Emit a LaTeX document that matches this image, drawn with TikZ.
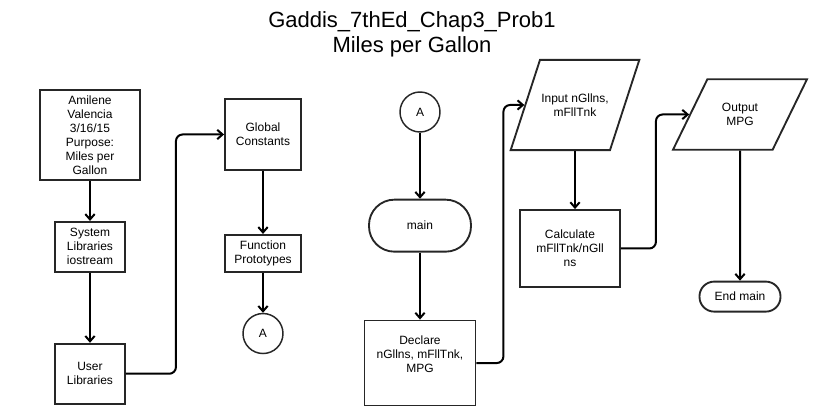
\documentclass[tikz,border=0pt]{standalone}
\usepackage{fontspec}
\setmainfont{Liberation Sans}
\usetikzlibrary{positioning,shapes.geometric,arrows.meta}

\tikzset{
  box/.style={draw=black!85, line width=1.4pt, align=center, inner sep=1pt,
    font=\fontsize{9}{10.5}\selectfont},
  io/.style={box, trapezium, trapezium stretches body,
    trapezium left angle=#1, trapezium right angle=180-#1},
  term/.style={box, rounded corners=#1},
  conn/.style={circle, draw=black!85, line width=1.1pt, minimum size=30pt,
    inner sep=0pt, font=\fontsize{9}{10.5}\selectfont},
  flow/.style={line width=1.5pt, rounded corners=5pt,
    -{Straight Barb[length=4pt,width=7pt]}},
}

\begin{document}
\begin{tikzpicture}[x=0.75pt,y=-0.75pt]
  \useasboundingbox (0,0) rectangle (815,420);
  \node[align=center, font=\fontsize{16.5}{18.75}\selectfont] (title) at (412,34)
    {Gaddis\_7thEd\_Chap3\_Prob1\\Miles per Gallon};

  % left column
  \node[box, minimum width=75pt, minimum height=67.5pt] (info) at (90,135)
    {Amilene\\Valencia\\3/16/15\\Purpose:\\Miles per\\Gallon};
  \node[box, minimum width=52.5pt, minimum height=37.5pt, below=30pt of info] (sys)
    {System\\Libraries\\iostream};
  \node[box, minimum width=52.5pt, minimum height=45pt, below=52.5pt of sys] (usr)
    {User\\Libraries};

  \node[box, minimum width=57pt, minimum height=53.25pt] (glob) at (263,134.5)
    {Global\\Constants};
  \node[box, minimum width=57pt, minimum height=27.75pt, below=47.25pt of glob] (proto)
    {Function\\Prototypes};
  \node[conn, below=30pt of proto] (a1) {A};

  % main
  \node[conn] (a2) at (420,112) {A};
  \node[term=19pt, minimum width=76.5pt, minimum height=39pt, below=49.5pt of a2] (main)
    {main};
  \node[box, minimum width=83.25pt, minimum height=63.75pt, below=50.25pt of main] (decl)
    {Declare\\nGllns, mFllTnk,\\MPG\\[3pt]};

  \node[io=72, minimum width=90pt, inner ysep=25.3pt] (in) at (575,105)
    {Input nGllns,\\mFllTnk};
  \node[box, minimum width=75pt, minimum height=57.75pt] (calc) at (570,248.5)
    {Calculate\\mFllTnk/nGll\\ns};

  \node[io=64, minimum width=100.5pt, inner ysep=18pt] (out) at (740,114.5)
    {Output\\MPG};
  \node[term=11pt, minimum width=60.75pt, minimum height=22.5pt, below=97.5pt of out] (endm)
    {End main};

  \draw[flow] (info) -- (sys);
  \draw[flow] (sys) -- (usr);
  \draw[flow] (usr.east) -- ++(50,0) |- (glob.west);
  \draw[flow] (glob) -- (proto);
  \draw[flow] (proto) -- (a1);
  \draw[flow] (a2) -- (main);
  \draw[flow] (main) -- (decl);
  \draw[flow] (decl.east) -- ++(27,0) |- (in.west);
  \draw[flow] (in.south) -- (in.south |- calc.north);
  \draw[flow] (calc.east) -- ++(35,0) |- (out.west);
  \draw[flow] (out) -- (endm);
\end{tikzpicture}
\end{document}
